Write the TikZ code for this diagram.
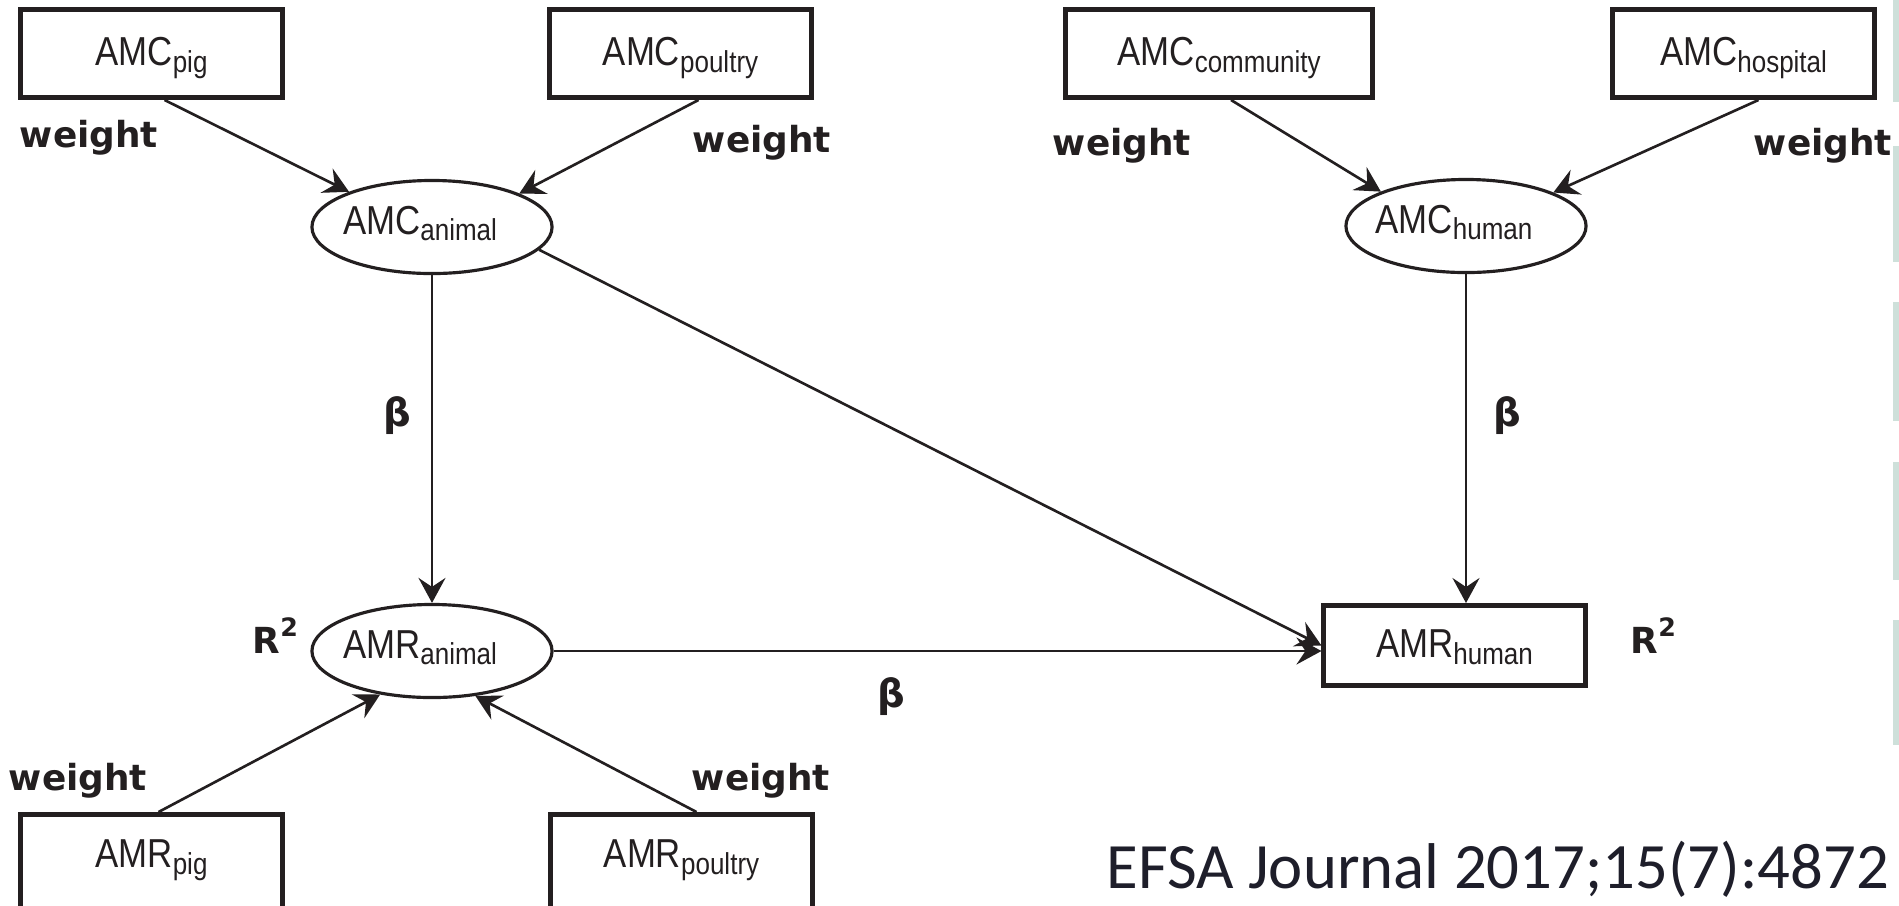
\documentclass[tikz,border=0pt]{standalone}
\usepackage{fontspec}
\usepackage{tikz}
\usetikzlibrary{arrows.meta, calc, shapes.geometric}
\newfontfamily\narrowfont[FakeStretch=0.86]{Liberation Sans}
\newfontfamily\labelfont{DejaVu Sans}
\newfontfamily\journalfont{Carlito}
\definecolor{inkcol}{RGB}{35,31,32}
\definecolor{barcol}{RGB}{206,224,218}
\definecolor{journalcol}{RGB}{30,30,42}
\newcommand{\varname}[2]{#1\raisebox{-1.8pt}{\fontsize{8.6}{9}\selectfont #2}}

\begin{document}
\begin{tikzpicture}[
			x=0.01cm,
			y=-0.01cm,
			observed/.style={
				draw=inkcol,
				rectangle,
				line width=1.4pt,
				minimum width=2.61cm,
				minimum height=0.88cm,
				inner sep=0pt,
				text=inkcol,
				font=\narrowfont\fontsize{11.5}{12}\selectfont,
				text height=8pt,
				text depth=1pt
			},
			latent/.style={
				draw=inkcol,
				ellipse,
				line width=0.9pt,
				minimum width=2.40cm,
				minimum height=0.93cm,
				inner sep=0pt,
				text=inkcol,
				font=\narrowfont\fontsize{11.5}{12}\selectfont,
				text height=6pt,
				text depth=1.7pt
			},
			weightlabel/.style={
				font=\labelfont\bfseries\fontsize{10.2}{12}\selectfont,
				text=inkcol,
				inner sep=0pt,
				anchor=base
			},
			link/.style={
				draw=inkcol,
				line width=0.75pt,
				-{Stealth[length=2.5mm, width=2.7mm, inset=0.9mm]}
			}
			]
			\useasboundingbox (0,0) rectangle (1899,905);
			\clip (0,0) rectangle (1899,905);

			% Page edge
			\foreach \ya/\yb in {0/102, 146/262, 302/421, 462/580, 620/745}
				\fill[barcol] (1893,\ya) rectangle (1899,\yb);

			% Consumption
			\node[observed] (amcpig) at (151.5,53.5) {\varname{AMC}{pig}};
			\node[observed] (amcpoultry) at (680.5,53.5) {\varname{AMC}{poultry}};
			\node[observed, minimum width=3.07cm] (amccommunity) at (1219,53.5) {\varname{AMC}{community}};
			\node[observed] (amchospital) at (1743.5,53.5) {\varname{AMC}{hospital}};
			\node[latent] (amcanimal) at (432,227) {\hspace*{-0.24cm}\varname{AMC}{animal}};
			\node[latent] (amchuman) at (1466,226) {\hspace*{-0.24cm}\varname{AMC}{human}};

			% Resistance
			\node[latent] (amranimal) at (432,651) {\hspace*{-0.24cm}\varname{AMR}{animal}};
			\node[observed, minimum height=0.80cm] (amrhuman) at (1454.5,645.5) {\varname{AMR}{human}};
			\node[observed, minimum height=0.96cm, text depth=4.9pt] (amrpig) at (151.5,862.5) {\varname{AMR}{pig}};
			\node[observed, minimum height=0.96cm, text depth=4.9pt] (amrpoultry) at (681.5,862.5) {\varname{AMR}{poultry}};

			% Labels
			\node[weightlabel] (wamcpig) at (89,147) {weight};
			\node[weightlabel] (wamcpoultry) at (762,152) {weight};
			\node[weightlabel] (wamccommunity) at (1122,155) {weight};
			\node[weightlabel] (wamchospital) at (1823,155) {weight};
			\node[weightlabel] (wamrpig) at (78,790) {weight};
			\node[weightlabel] (wamrpoultry) at (761,790) {weight};
			\node[weightlabel, anchor=center, font=\labelfont\bfseries\fontsize{11}{12}\selectfont] (banimal) at (397,416) {β};
			\node[weightlabel, anchor=center, font=\labelfont\bfseries\fontsize{11}{12}\selectfont] (bhuman) at (1507,416) {β};
			\node[weightlabel, anchor=center, font=\labelfont\bfseries\fontsize{11}{12}\selectfont] (bcross) at (891,697) {β};
			\node[weightlabel, anchor=base west] (ranimal) at (252,653) {R\raisebox{4.6pt}{\fontsize{7.2}{8}\selectfont 2}};
			\node[weightlabel, anchor=base west] (rhuman) at (1630,653) {R\raisebox{4.6pt}{\fontsize{7.2}{8}\selectfont 2}};
			\node[anchor=base west, inner sep=0pt, text=journalcol, font=\journalfont\fontsize{18.4}{20}\selectfont] (journal) at (1106,888) {EFSA Journal 2017;15(7):4872};

			% Links
			\draw[link] ([xshift=0.13cm]amcpig.south) -- (amcanimal.157);
			\draw[link] ([xshift=0.18cm]amcpoultry.south) -- (amcanimal.21);
			\draw[link] ([xshift=0.12cm]amccommunity.south) -- (amchuman.158);
			\draw[link] ([xshift=0.15cm]amchospital.south) -- (amchuman.21);
			\draw[link] ([xshift=0.07cm]amrpig.north) -- (amranimal.220);
			\draw[link] ([xshift=0.15cm]amrpoultry.north) -- (amranimal.314);
			\draw[link] (amcanimal) -- (amranimal);
			\draw[link] (amchuman.south) -- (amchuman.south |- amrhuman.north);
			\draw[link] (amcanimal.-12) -- (amrhuman.west);
			\draw[link] (amranimal) -- (amranimal -| amrhuman.west);
		\end{tikzpicture}
\end{document}
